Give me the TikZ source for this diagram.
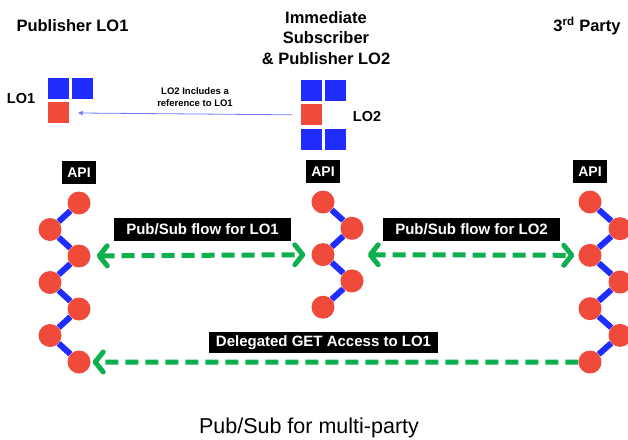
\documentclass[tikz,border=0pt]{standalone}
\usepackage{fontspec}
\setmainfont{Liberation Sans}
\usepackage{tikz}
\usetikzlibrary{arrows.meta,positioning}
\definecolor{dotred}{HTML}{F04A3A}
\definecolor{linkblue}{HTML}{1F2DFF}
\definecolor{flowgreen}{HTML}{0DAF4F}
\definecolor{refblue}{HTML}{6B78FF}

\begin{document}
\begin{tikzpicture}[x=1pt,y=-1pt,
    dot/.style={circle,fill=dotred,minimum size=23pt,inner sep=0pt},
    link/.style={draw=linkblue,line width=6pt},
    sq/.style={minimum size=21pt,inner sep=0pt,fill=#1},
    tag/.style={fill=black,text=white,font=\bfseries\fontsize{15}{15}\selectfont,
      inner xsep=12pt,inner ysep=0pt,minimum height=23pt},
    apitag/.style={tag,font=\bfseries\fontsize{14}{14}\selectfont,inner xsep=5pt},
    head/.style={font=\bfseries\fontsize{16.5}{20.5}\selectfont,align=center},
    flow/.style={draw=flowgreen,line width=5pt,dash pattern=on 13pt off 7pt,
      >={Straight Barb[round,length=8pt,width=20pt]}}]
    \useasboundingbox (0,0) rectangle (628,439);

    % headings
    \node[head] (pub) at (72.5,26) {Publisher LO1};
    \node[head] (mid) at (326,38) {Immediate\\Subscriber\\\& Publisher LO2};
    \node[head] (third) at (587,26) {3\textsuperscript{rd} Party};

    % learning objects
    \node[sq=linkblue] (lo1a) at (58,88) {};
    \node[sq=linkblue, right=3.5pt of lo1a] (lo1b) {};
    \node[sq=dotred, below=3.5pt of lo1a] (lo1c) {};
    \node[font=\bfseries\fontsize{14.5}{14.5}\selectfont] (lo1) at (21,99) {LO1};

    \node[sq=linkblue] (lo2a) at (311,90) {};
    \node[sq=linkblue, right=3.5pt of lo2a] (lo2b) {};
    \node[sq=dotred, below=3.5pt of lo2a] (lo2c) {};
    \node[sq=linkblue, below=3.5pt of lo2c] (lo2d) {};
    \node[sq=linkblue, right=3.5pt of lo2d] (lo2e) {};
    \node[font=\bfseries\fontsize{14.5}{14.5}\selectfont] (lo2) at (367,117) {LO2};

    % reference
    \node[font=\bfseries\fontsize{9.5}{12}\selectfont,align=center] (reftxt) at (195,97)
      {LO2 Includes a\\reference to LO1};
    \draw[refblue,line width=0.8pt,-{Latex[length=5pt,width=5pt]},
      shorten <=8pt,shorten >=9pt] (lo2c.west) -- (lo1c.east);

    % the three API chains
    \foreach \i in {1,...,7} {
      \pgfmathsetmacro\xa{mod(\i,2)==1 ? 79 : 50}
      \pgfmathsetmacro\ya{203+26.5*(\i-1)}
      \node[dot] (a\i) at (\xa,\ya) {};
      \pgfmathsetmacro\xc{mod(\i,2)==1 ? 590 : 620}
      \pgfmathsetmacro\yc{202+26.67*(\i-1)}
      \node[dot] (c\i) at (\xc,\yc) {};
    }
    \foreach \i in {1,...,5} {
      \pgfmathsetmacro\xb{mod(\i,2)==1 ? 323 : 352}
      \pgfmathsetmacro\yb{202+26.3*(\i-1)}
      \node[dot] (b\i) at (\xb,\yb) {};
    }
    \foreach \i [evaluate=\i as \j using int(\i+1)] in {1,...,6} {
      \draw[link] (a\i) -- (a\j);
      \draw[link] (c\i) -- (c\j);
    }
    \foreach \i [evaluate=\i as \j using int(\i+1)] in {1,...,4}
      \draw[link] (b\i) -- (b\j);

    \node[apitag, above=7pt of a1] (api1) {API};
    \node[apitag, above=7pt of b1] (api2) {API};
    \node[apitag, above=7pt of c1] (api3) {API};

    % flows
    \draw[flow,<->,shorten <=6pt,shorten >=6pt] (a3) -- (b3);
    \draw[flow,<->,shorten <=33pt,shorten >=4pt] (b3) -- (c3);
    \draw[flow,->,shorten >=2pt] (c7) -- (a7);

    \node[tag] (flow1) at (202.5,229) {Pub/Sub flow for LO1};
    \node[tag] (flow2) at (471.5,229.5) {Pub/Sub flow for LO2};
    \node[tag,inner xsep=7pt,minimum height=21pt] (get) at (323.5,342.5)
      {Delegated GET Access to LO1};

    % caption
    \node[font=\fontsize{21.5}{21.5}\selectfont] (cap) at (309,428) {Pub/Sub for multi-party};
\end{tikzpicture}
\end{document}
